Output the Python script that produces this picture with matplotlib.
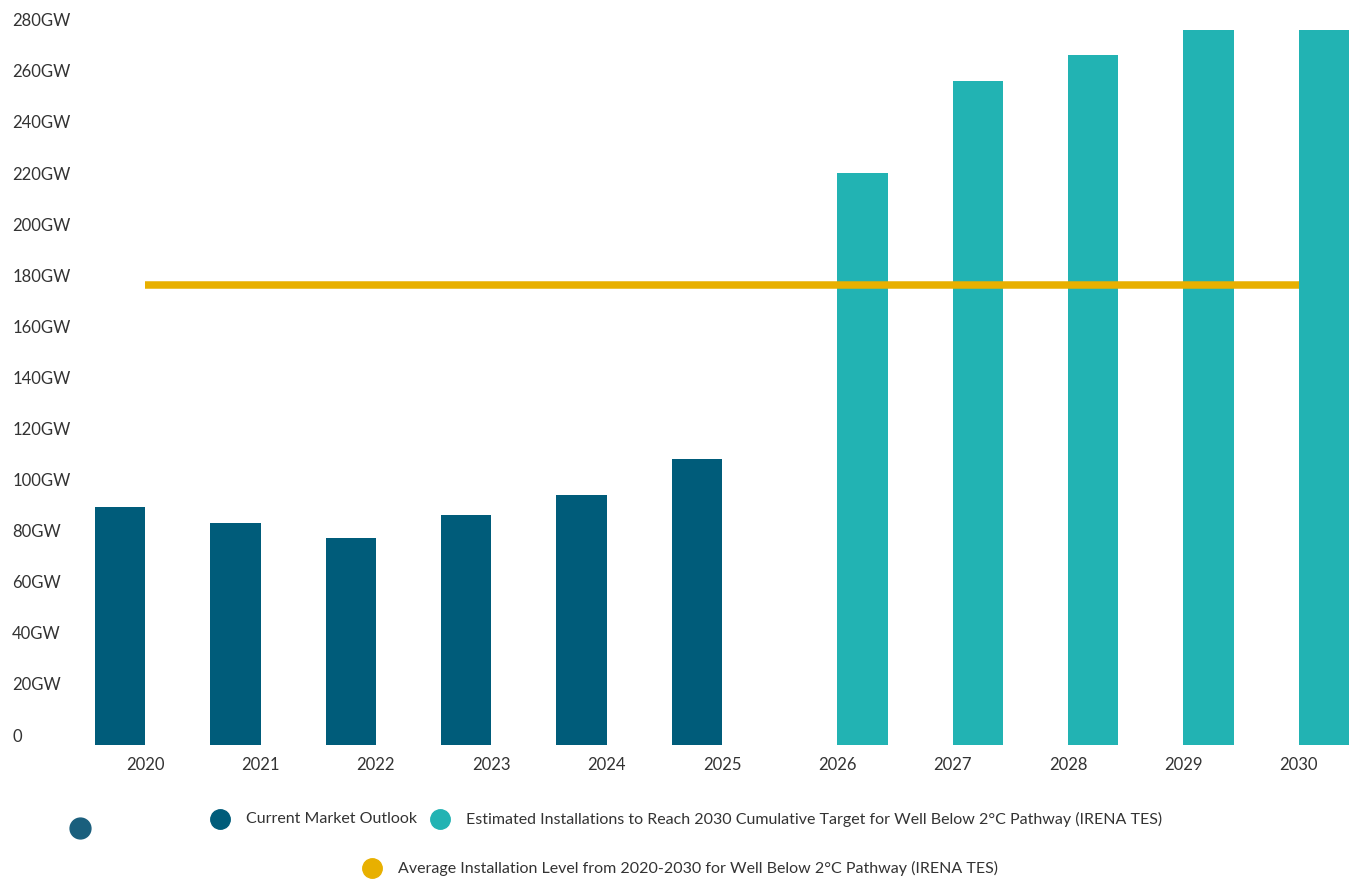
import matplotlib.pyplot as plt
import numpy as np
from matplotlib.transforms import ScaledTranslation

years = ['2020', '2021', '2022', '2023', '2024', '2025', '2026', '2027', '2028', '2029', '2030']
current_outlook = [93, 87, 81, 90, 98, 112, 0, 0, 0, 0, 0]
estimated_target = [0, 0, 0, 0, 0, 0, 224, 260, 270, 280, 280]
average_level = 180
yticks = [0, 20, 40, 60, 80, 100, 120, 140, 160, 180, 200, 220, 240, 260, 280]
ytick_labels = ['0'] + ['%dGW' % v for v in yticks[1:]]

c_dark = '#005c7a'
c_teal = '#22b3b3'
c_gold = '#e8b000'
c_text = '#333333'

plt.rcParams['font.family'] = ['Lato', 'DejaVu Sans']

fig = plt.figure(figsize=(13.69, 8.85), dpi=100)
ax = fig.add_axes([76 / 1369, 140 / 885, 1292 / 1369, 728 / 885])

x = np.arange(len(years))
w = 0.435
cur = np.array(current_outlook, dtype=float)
est = np.array(estimated_target, dtype=float)
cur[cur == 0] = np.nan
est[est == 0] = np.nan
ax.bar(x - w / 2, cur, w, color=c_dark, zorder=2)
ax.bar(x + w / 2, est, w, color=c_teal, zorder=2)
ax.plot([x[0], x[-1]], [average_level, average_level], color=c_gold, lw=5.4,
        solid_capstyle='butt', zorder=3)

ax.set_xlim(-0.6, 10.6)
ax.set_ylim(0, 285)
ax.set_xticks(x)
ax.set_xticklabels(years, fontsize=12, color=c_text)
ax.set_yticks(yticks)
ax.set_yticklabels(ytick_labels, fontsize=12, color=c_text)
ax.tick_params(axis='x', length=0, pad=9)
ax.tick_params(axis='y', length=0, pad=46)
offset = ScaledTranslation(0, 10 / 100, fig.dpi_scale_trans)
for lab in ax.get_yticklabels():
    lab.set_horizontalalignment('left')
    lab.set_transform(lab.get_transform() + offset)
for s in ax.spines.values():
    s.set_visible(False)

# legend drawn in figure pixels
def fx(px):
    return px / 1369

def fy(py):
    return 1 - py / 885

fig.lines.append(plt.Line2D([fx(80)], [fy(828)], marker='o', ms=15, color='#1a5f7d',
                            transform=fig.transFigure))
entries = [
    (220, 819, c_dark, 'Current Market Outlook'),
    (440, 819, c_teal, 'Estimated Installations to Reach 2030 Cumulative Target for Well Below 2°C Pathway (IRENA TES)'),
    (372, 868, c_gold, 'Average Installation Level from 2020-2030 for Well Below 2°C Pathway (IRENA TES)'),
]
for px, py, col, txt in entries:
    fig.lines.append(plt.Line2D([fx(px)], [fy(py)], marker='o', ms=14, color=col,
                                transform=fig.transFigure))
    fig.text(fx(px + 26), fy(py), txt, fontsize=11.5, color=c_text, va='center', ha='left')

plt.savefig('out.png', dpi=100)
